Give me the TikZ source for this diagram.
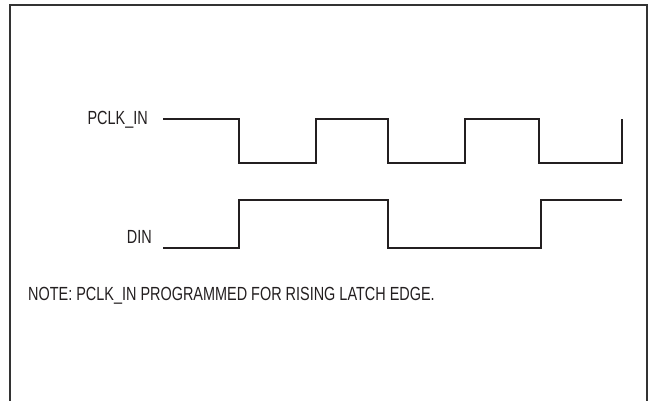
\documentclass[tikz,border=0pt]{standalone}
\usepackage{fontspec}
\setmainfont{Liberation Sans}[FakeStretch=0.76]
\usepackage{xcolor}
\usepackage{tikz}
\usetikzlibrary{calc}
\definecolor{ink}{HTML}{231F20}
\definecolor{rim}{HTML}{333333}
\tikzset{
  wave/.style={draw=ink, line width=1.3pt, line join=miter},
  rim/.style={draw=rim, line width=2pt},
  sig/.style={font=\fontsize{19}{21}\selectfont, text=ink, inner sep=0pt, anchor=base east},
  note/.style={font=\fontsize{19}{21}\selectfont, text=ink, inner sep=0pt, anchor=base west}
}

\begin{document}
\begin{tikzpicture}[x=1pt, y=-1pt]
  \useasboundingbox (0,0) rectangle (652,400);

  % outer frame, open at the bottom edge
  \draw[rim] (10,401) -- (10,5) -- (647,5) -- (647,401);

  % signal names
  \node[sig] (clklbl) at (148,124) {PCLK\_IN};
  \node[sig] (dinlbl) at (152,243) {DIN};

  % clock waveform
  \coordinate (clk0) at (163,119);
  \draw[wave] (clk0) -- (239,119) -- (239,163) -- (316,163) -- (316,119)
    -- (388,119) -- (388,163) -- (465,163) -- (465,119)
    -- (539,119) -- (539,163) -- (622,163) -- (622,119);

  % data waveform
  \coordinate (din0) at (163,248);
  \draw[wave] (din0) -- (239,248) -- (239,200) -- (388,200) -- (388,248)
    -- (541,248) -- (541,200) -- (622,200);

  \node[note] (note) at (28,300) {NOTE: PCLK\_IN PROGRAMMED FOR RISING LATCH EDGE.};
\end{tikzpicture}
\end{document}
